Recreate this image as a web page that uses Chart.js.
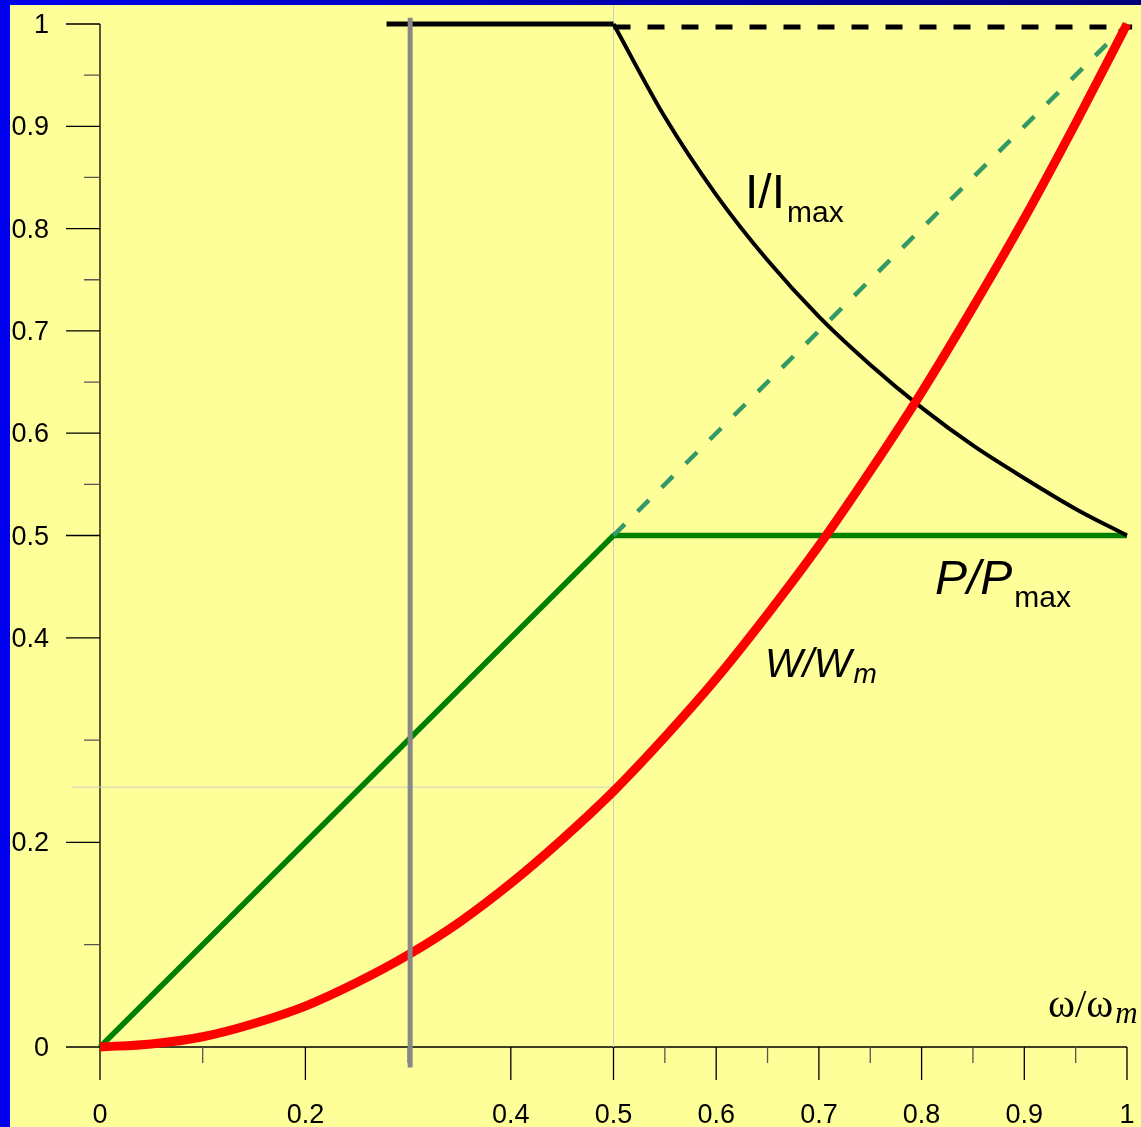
<!DOCTYPE html>
<html>
<head>
<meta charset="utf-8">
<script src="https://cdn.jsdelivr.net/npm/chart.js@4.4.1/dist/chart.umd.min.js"></script>
<style>
  html, body { margin: 0; padding: 0; overflow: hidden; background: #ffff99; }
  #wrap { position: relative; width: 1141px; height: 1127px; }
</style>
</head>
<body>
<div id="wrap"><canvas id="chart"></canvas></div>
<script>
// W/Wm curve (red)
const wX = [0, 0.05, 0.1, 0.15, 0.2, 0.25, 0.3, 0.35, 0.4, 0.45, 0.5, 0.55, 0.6, 0.65, 0.7, 0.75, 0.8, 0.85, 0.9, 0.95, 1];
const wValues = [0, 0.003, 0.01, 0.023, 0.04, 0.063, 0.09, 0.122, 0.16, 0.203, 0.25, 0.303, 0.36, 0.423, 0.49, 0.563, 0.64, 0.723, 0.81, 0.903, 1];

// I/Imax curve (black)
const iX = [0.5, 0.55, 0.6, 0.65, 0.7, 0.75, 0.8, 0.85, 0.9, 0.95, 1];
const iValues = [1, 0.909, 0.833, 0.769, 0.714, 0.667, 0.625, 0.588, 0.556, 0.526, 0.5];
const iTopX = [0.279, 0.5];
const iTopValues = [1, 1];
const iDashX = [0.5, 1.005];
const iDashValues = [0.997, 0.997];

// P/Pmax (green)
const pX = [0, 0.5, 1];
const pValues = [0, 0.5, 0.5];
const pDashX = [0.5, 1];
const pDashValues = [0.5, 1];

// gray marker at omega = 0.3
const markerX = [0.302, 0.302];
const markerY = [1.006, -0.02];

// thin guide lines
const guideVX = [0.5, 0.5];
const guideVY = [1.019, 0];
const guideHX = [-0.027, 0.5];
const guideHY = [0.254, 0.254];

// axis ticks
const xMajorTicks = [0, 0.2, 0.4, 0.5, 0.6, 0.7, 0.8, 0.9, 1];
const xMinorTicks = [0.1, 0.3, 0.55, 0.65, 0.75, 0.85, 0.95];
const xTickLabels = ['0', '0.2', '0.4', '0.5', '0.6', '0.7', '0.8', '0.9', '1'];
const yMajorTicks = [0, 0.2, 0.4, 0.5, 0.6, 0.7, 0.8, 0.9, 1];
const yMinorTicks = [0.1, 0.3, 0.55, 0.65, 0.75, 0.85, 0.95];
const yTickLabels = ['0', '0.2', '0.4', '0.5', '0.6', '0.7', '0.8', '0.9', '1'];

// curve labels: [main, sub, x, y, main font, sub font, sub drop]
const curveLabels = [
  ['I/I', 'max', 0.628, 0.820, '48px "Liberation Sans", Arial', '30px "Liberation Sans", Arial', 14],
  ['P/P', 'max', 0.813, 0.443, 'italic 48px "Liberation Sans", Arial', '30px "Liberation Sans", Arial', 13],
  ['W/W', 'm', 0.6475, 0.3617, 'italic 40px "Liberation Sans", Arial', 'italic 28px "Liberation Sans", Arial', 6],
  ['\u03c9/\u03c9', 'm', 0.923, 0.0293, '41px "Liberation Serif", "Times New Roman", serif', 'italic 31px "Liberation Serif", "Times New Roman", serif', 6]
];

function pts(xs, ys) {
  return xs.map((x, i) => ({ x: x, y: ys[i] }));
}

const axesPlugin = {
  id: 'axesPlugin',
  beforeDraw(chart) {
    const ctx = chart.ctx;
    ctx.save();
    ctx.fillStyle = '#ffff99';
    ctx.fillRect(0, 0, chart.width, chart.height);
    ctx.restore();
  },
  beforeDatasetsDraw(chart) {
    const ctx = chart.ctx;
    const xs = chart.scales.x, ys = chart.scales.y;
    const x0 = xs.getPixelForValue(0), x1 = xs.getPixelForValue(1);
    const y0 = ys.getPixelForValue(0), y1 = ys.getPixelForValue(1);
    ctx.save();
    ctx.strokeStyle = '#000';
    ctx.lineWidth = 1.3;
    ctx.beginPath();
    ctx.moveTo(x0, y1); ctx.lineTo(x0, y0);
    ctx.moveTo(x0, y0); ctx.lineTo(x1, y0);
    ctx.stroke();

    // major ticks
    ctx.beginPath();
    xMajorTicks.forEach(v => {
      const px = xs.getPixelForValue(v);
      ctx.moveTo(px, y0); ctx.lineTo(px, y0 + 33);
    });
    yMajorTicks.forEach(v => {
      const py = ys.getPixelForValue(v);
      ctx.moveTo(x0 - 34, py); ctx.lineTo(x0, py);
    });
    ctx.stroke();

    // minor ticks
    ctx.strokeStyle = '#555';
    ctx.beginPath();
    xMinorTicks.forEach(v => {
      const px = xs.getPixelForValue(v);
      ctx.moveTo(px, y0); ctx.lineTo(px, y0 + 16);
    });
    yMinorTicks.forEach(v => {
      const py = ys.getPixelForValue(v);
      ctx.moveTo(x0 - 16, py); ctx.lineTo(x0, py);
    });
    ctx.stroke();

    // tick labels
    ctx.fillStyle = '#000';
    ctx.font = '27px "Liberation Sans", Arial';
    ctx.textBaseline = 'alphabetic';
    ctx.textAlign = 'center';
    xMajorTicks.forEach((v, i) => {
      ctx.fillText(xTickLabels[i], xs.getPixelForValue(v), y0 + 76);
    });
    ctx.textAlign = 'right';
    yMajorTicks.forEach((v, i) => {
      ctx.fillText(yTickLabels[i], 49, ys.getPixelForValue(v) + 9);
    });
    ctx.restore();
  },
  afterDraw(chart) {
    const ctx = chart.ctx;
    const xs = chart.scales.x, ys = chart.scales.y;
    ctx.save();
    ctx.fillStyle = '#000';
    ctx.textAlign = 'left';
    ctx.textBaseline = 'alphabetic';
    curveLabels.forEach(l => {
      const px = xs.getPixelForValue(l[2]);
      const py = ys.getPixelForValue(l[3]);
      ctx.font = l[4];
      ctx.fillText(l[0], px, py);
      const w = ctx.measureText(l[0]).width;
      ctx.font = l[5];
      ctx.fillText(l[1], px + w + 2, py + l[6]);
    });

    // blue frame
    ctx.fillStyle = '#0000ee';
    ctx.fillRect(0, 0, 10, chart.height);
    const g = ctx.createLinearGradient(0, 0, chart.width, 0);
    g.addColorStop(0, '#0000ee');
    g.addColorStop(1, '#00007a');
    ctx.fillStyle = g;
    ctx.fillRect(0, 0, chart.width, 5);
    ctx.restore();
  }
};

const lineBase = { pointRadius: 0, fill: false, clip: false, borderCapStyle: 'butt' };

new Chart(document.getElementById('chart'), {
  type: 'line',
  data: {
    datasets: [
      Object.assign({}, lineBase, { label: 'marker', data: pts(markerX, markerY), borderColor: '#888888', borderWidth: 5 }),
      Object.assign({}, lineBase, { label: 'W/Wm', data: pts(wX, wValues), borderColor: '#ff0000', borderWidth: 9, cubicInterpolationMode: 'monotone' }),
      Object.assign({}, lineBase, { label: 'I/Imax', data: pts(iX, iValues), borderColor: '#000000', borderWidth: 4, cubicInterpolationMode: 'monotone' }),
      Object.assign({}, lineBase, { label: 'I top', data: pts(iTopX, iTopValues), borderColor: '#000000', borderWidth: 5 }),
      Object.assign({}, lineBase, { label: 'P dash', data: pts(pDashX, pDashValues), borderColor: '#339966', borderWidth: 4.5, borderDash: [16, 18] }),
      Object.assign({}, lineBase, { label: 'P/Pmax', data: pts(pX, pValues), borderColor: '#008000', borderWidth: 5.5 }),
      Object.assign({}, lineBase, { label: 'I dash', data: pts(iDashX, iDashValues), borderColor: '#000000', borderWidth: 5, borderDash: [17, 17] }),
      Object.assign({}, lineBase, { label: 'guide v', data: pts(guideVX, guideVY), borderColor: '#cccccc', borderWidth: 1 }),
      Object.assign({}, lineBase, { label: 'guide h', data: pts(guideHX, guideHY), borderColor: '#cccccc', borderWidth: 1 })
    ]
  },
  options: {
    responsive: true,
    maintainAspectRatio: false,
    animation: false,
    layout: { padding: { left: 100, right: 14, top: 24, bottom: 80 } },
    plugins: { legend: { display: false }, tooltip: { enabled: false } },
    scales: {
      x: { type: 'linear', min: 0, max: 1, display: false },
      y: { type: 'linear', min: 0, max: 1, display: false }
    }
  },
  plugins: [axesPlugin]
});
</script>
</body>
</html>
